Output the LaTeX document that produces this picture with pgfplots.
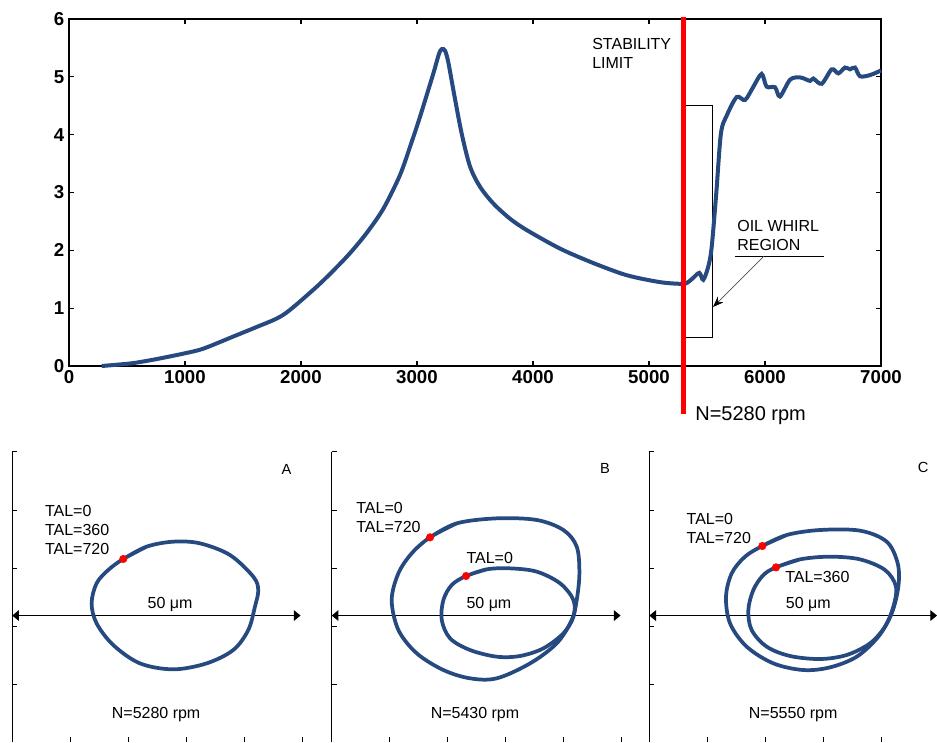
\documentclass[border=0pt]{standalone}
\usepackage{fontspec}
\setmainfont{Liberation Sans}
\usepackage{pgfplots}
\pgfplotsset{compat=1.18}
\usetikzlibrary{arrows.meta}
\definecolor{curve}{RGB}{38,74,128}
\pgfplotsset{orbit/.style={
  scale only axis, width=239.25pt, height=217.5pt, anchor=south west,
  xmin=0, xmax=5.5, ymin=0, ymax=5,
  axis x line=bottom, axis y line=left,
  axis line style={-, line width=0.75pt},
  x axis line style={draw=none},
  xtick={1,2,3,4,5}, ytick={1,2,3,4,5},
  xticklabels={}, yticklabels={},
  tick align=inside, major tick length=3.75pt,
  every tick/.style={black, line width=0.75pt},
  clip=false,
}}
\tikzset{
  orb/.style={curve, line width=2.8pt, smooth, tension=0.55},
  dot/.style={only marks, mark=*, mark size=2.8pt, mark options={draw=red, fill=red}},
  dbl/.style={black, line width=0.75pt, {Triangle[length=5pt,width=8pt]}-{Triangle[length=5pt,width=8pt]}},
  txt/.style={inner sep=0pt, font=\fontsize{12}{14.25}\selectfont},
}
\begin{document}
\begin{tikzpicture}
\useasboundingbox (0pt,0pt) rectangle (702.75pt,556.5pt);
% ---------------- top chart
\begin{axis}[
  at={(51.75pt,282pt)}, anchor=south west,
  scale only axis, width=609pt, height=260.25pt,
  xmin=0, xmax=7000, ymin=0, ymax=6,
  xtick={0,1000,...,7000}, ytick={0,1,...,6},
  scaled x ticks=false,
  /pgf/number format/1000 sep={},
  /pgf/number format/assume math mode=true,
  ticklabel style={font=\bfseries\fontsize{14}{16}\selectfont},
  tick align=inside, major tick length=3.75pt,
  axis line style={line width=0.8pt},
  every tick/.style={black, line width=0.8pt},
  clip=false,
]
\addplot[black, line width=0.75pt] coordinates {(5295,0.5) (5545,0.5) (5545,4.5) (5295,4.5)};
\addplot[curve, line width=3pt, smooth, tension=0.5] table {
x y
282 0
400 0.02
554 0.05
756 0.12
1000 0.22
1158 0.30
1417 0.51
1600 0.66
1790 0.82
1905 0.97
2135 1.37
2279 1.65
2422 1.95
2566 2.30
2710 2.72
2853 3.30
2950 3.85
3026 4.31
3141 5.06
3190 5.40
3215 5.48
3242 5.45
3270 5.25
3320 4.70
3385 4.02
3457 3.45
3543 3.10
3658 2.81
3800 2.55
3946 2.35
4233 2.03
4520 1.78
4808 1.57
5095 1.45
5282 1.42
5330 1.44
5379 1.52
5434 1.61
5468 1.49
5511 1.72
5540 2.05
5580 2.99
5620 4.02
5670 4.33
5756 4.65
5828 4.60
5900 4.83
5971 5.05
6014 4.83
6086 4.82
6129 4.66
6216 4.95
6302 4.99
6388 4.93
6417 4.97
6489 4.88
6575 5.13
6632 5.06
6690 5.16
6733 5.13
6776 5.16
6819 5.01
6905 5.03
7000 5.11
};
\addplot[red, line width=3.5pt] coordinates {(5295,6.04) (5295,-0.83)};
\draw[black, line width=0.75pt] (axis cs:5741,1.90) -- (axis cs:6509,1.90);
\draw[gray!60!black, line width=0.5pt, -{Stealth[length=8pt,width=6pt,color=black]}] (axis cs:5991,1.90) -- (axis cs:5552,1.02);
\node[txt, anchor=west, align=left] at (axis cs:4509,5.40) {STABILITY\\LIMIT};
\node[txt, anchor=west, align=left] at (axis cs:5759,2.26) {OIL WHIRL\\REGION};
\node[anchor=west, inner sep=0pt, font=\fontsize{15}{18}\selectfont] at (axis cs:5397,-0.865) {N=5280 rpm};
\end{axis}
% ---------------- panel A
\begin{axis}[orbit, at={(9.2pt,0pt)}]
\addplot[dbl] coordinates {(0,2.18) (4.97,2.18)};
\addplot[orb] coordinates {
(1.914,3.155) (2.316,3.368) (2.776,3.454) (3.236,3.425) (3.753,3.224) (4.155,2.851)
(4.241,2.621) (4.184,2.333) (4.069,1.931) (3.810,1.586) (3.351,1.356) (2.776,1.253)
(2.201,1.356) (1.741,1.672) (1.454,2.046) (1.368,2.391) (1.454,2.736) (1.655,2.966)
(1.914,3.155) (2.316,3.368)};
\addplot[dot] coordinates {(1.914,3.155)};
\node[inner sep=0pt, font=\fontsize{11}{13}\selectfont] at (axis cs:4.73,4.70) {A};
\node[txt, anchor=west, align=left] at (axis cs:0.56,3.65) {TAL=0\\TAL=360\\TAL=720};
\node[txt] at (axis cs:2.72,2.38) {50 μm};
\node[txt] at (axis cs:2.48,0.48) {N=5280 rpm};
\end{axis}
% ---------------- panel B
\begin{axis}[orbit, at={(248.8pt,0pt)}]
\addplot[dbl] coordinates {(0,2.18) (4.98,2.18)};
\addplot[orb] coordinates {
(1.695,3.529) (2.155,3.770) (2.845,3.856) (3.534,3.828) (3.994,3.655) (4.224,3.368)
(4.270,2.908) (4.224,2.448) (4.138,2.103) (3.879,1.701) (3.420,1.356) (2.845,1.098)
(2.385,1.098) (1.925,1.241) (1.466,1.529) (1.149,1.931) (1.034,2.448) (1.149,2.908)
(1.379,3.253) (1.695,3.529) (2.155,3.770)};
\addplot[orb] coordinates {
(2.316,2.862) (2.672,2.977) (3.075,2.994) (3.534,2.937) (3.937,2.736) (4.167,2.448)
(4.167,2.161) (3.994,1.874) (3.649,1.615) (3.247,1.483) (2.845,1.471) (2.385,1.586)
(2.040,1.787) (1.897,2.103) (1.925,2.448) (2.069,2.707) (2.316,2.862) (2.672,2.977)};
\addplot[dot] coordinates {(1.695,3.529) (2.316,2.862)};
\node[inner sep=0pt, font=\fontsize{11}{13}\selectfont] at (axis cs:4.71,4.72) {B};
\node[txt, anchor=west, align=left] at (axis cs:0.42,3.875) {TAL=0\\TAL=720};
\node[txt, anchor=west] at (axis cs:2.32,3.18) {TAL=0};
\node[txt] at (axis cs:2.71,2.38) {50 μm};
\node[txt] at (axis cs:2.47,0.48) {N=5430 rpm};
\end{axis}
% ---------------- panel C
\begin{axis}[orbit, at={(487.0pt,0pt)}]
\addplot[dbl] coordinates {(0,2.18) (4.96,2.18)};
\addplot[orb] coordinates {
(1.948,3.379) (2.368,3.569) (2.943,3.655) (3.632,3.644) (4.092,3.454) (4.282,3.080)
(4.293,2.678) (4.178,2.218) (3.948,1.816) (3.575,1.471) (3.115,1.287) (2.655,1.241)
(2.138,1.356) (1.678,1.644) (1.391,2.046) (1.322,2.506) (1.420,2.908) (1.649,3.195)
(1.948,3.379) (2.368,3.569)};
\addplot[orb] coordinates {
(2.184,3.011) (2.598,3.149) (3.115,3.195) (3.632,3.149) (4.063,2.966) (4.253,2.678)
(4.207,2.333) (4.063,1.989) (3.805,1.701) (3.402,1.500) (2.943,1.431) (2.425,1.483)
(2.023,1.644) (1.764,1.931) (1.707,2.276) (1.793,2.621) (1.966,2.879) (2.184,3.011)
(2.598,3.149)};
\addplot[dot] coordinates {(1.948,3.379) (2.184,3.011)};
\node[inner sep=0pt, font=\fontsize{11}{13}\selectfont] at (axis cs:4.72,4.73) {C};
\node[txt, anchor=west, align=left] at (axis cs:0.64,3.675) {TAL=0\\TAL=720};
\node[txt, anchor=west] at (axis cs:2.34,2.84) {TAL=360};
\node[txt] at (axis cs:2.74,2.38) {50 μm};
\node[txt] at (axis cs:2.48,0.48) {N=5550 rpm};
\end{axis}
\end{tikzpicture}
\end{document}
